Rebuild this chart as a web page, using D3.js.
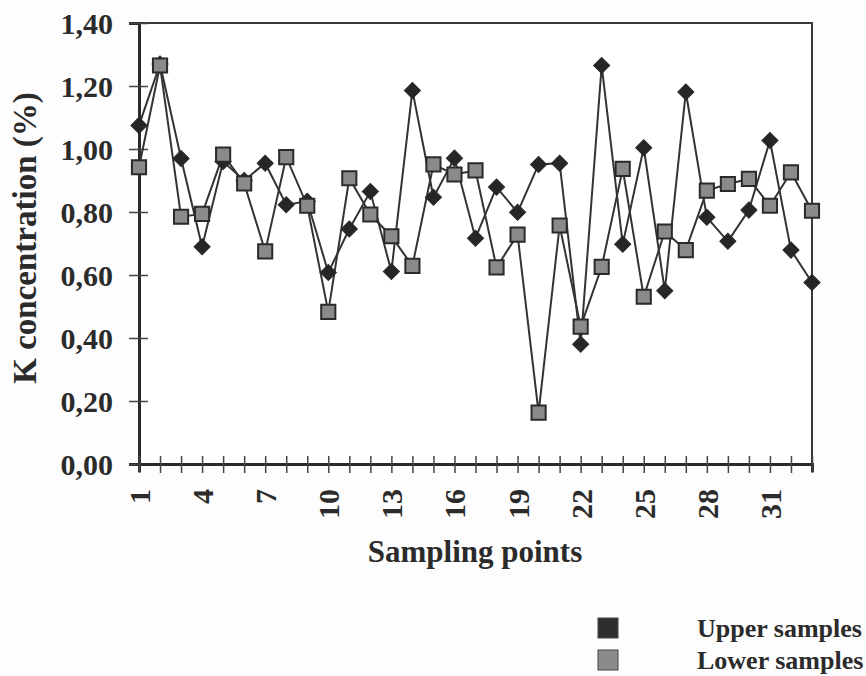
<!DOCTYPE html>
<html>
<head>
<meta charset="utf-8">
<script src="https://cdn.jsdelivr.net/npm/d3@7.9.0/dist/d3.min.js"></script>
<style>
  html, body { margin: 0; padding: 0; background: #fdfdfd; }
  svg text { font-family: "Liberation Serif", "Times New Roman", serif; font-weight: bold; fill: #2b2b2b; }
</style>
</head>
<body>
<svg id="chart" width="866" height="676"></svg>
<script>
// sampling points 1..33
const points = d3.range(1, 34);
const upper = [1.075, 1.27, 0.97, 0.69, 0.96, 0.90, 0.955, 0.823, 0.834, 0.608, 0.746,
  0.865, 0.611, 1.186, 0.847, 0.971, 0.717, 0.879, 0.799, 0.951, 0.955, 0.38,
  1.265, 0.698, 1.004, 0.55, 1.181, 0.783, 0.707, 0.806, 1.027, 0.679, 0.576];
const lower = [0.942, 1.265, 0.785, 0.794, 0.982, 0.891, 0.675, 0.974, 0.82, 0.483, 0.907,
  0.792, 0.723, 0.629, 0.951, 0.919, 0.932, 0.624, 0.728, 0.163, 0.757, 0.436,
  0.626, 0.937, 0.531, 0.738, 0.679, 0.868, 0.889, 0.905, 0.82, 0.926, 0.804];
const yTicks = [0, 0.2, 0.4, 0.6, 0.8, 1.0, 1.2, 1.4];
const xLabels = [1, 4, 7, 10, 13, 16, 19, 22, 25, 28, 31];
const series = [
  { name: 'Upper samples', values: upper, shape: 'diamond', fill: '#262626' },
  { name: 'Lower samples', values: lower, shape: 'square', fill: '#8a8a8a' },
];

const svg = d3.select('#chart');
const plot = { left: 139, right: 812, top: 23, bottom: 464 };

const x = d3.scaleLinear().domain([1, 33]).range([plot.left, plot.right]);
const y = d3.scaleLinear().domain([0, 1.4]).range([plot.bottom, plot.top]);
const fmt = d => d3.format('.2f')(d).replace('.', ',');

// frame
svg.append('rect')
  .attr('x', plot.left).attr('y', plot.top)
  .attr('width', plot.right - plot.left).attr('height', plot.bottom - plot.top)
  .attr('fill', '#fff').attr('stroke', '#3a3a3a').attr('stroke-width', 2);

// y axis
const yAxis = svg.append('g')
  .attr('transform', `translate(${plot.left},0)`)
  .call(d3.axisLeft(y).tickValues(yTicks).tickFormat(fmt).tickSize(10).tickPadding(16));
yAxis.select('.domain').attr('stroke', '#2a2a2a').attr('stroke-width', 3);
yAxis.selectAll('.tick line').attr('x2', -10).attr('x1', 9).attr('stroke', '#444').attr('stroke-width', 1.5);
yAxis.selectAll('.tick text').attr('font-size', 30).attr('dy', '0.36em').attr('fill', '#2b2b2b');

// x axis
const xAxis = svg.append('g')
  .attr('transform', `translate(0,${plot.bottom})`)
  .call(d3.axisBottom(x).tickValues(points).tickFormat(d => xLabels.includes(d) ? d : '').tickSize(8));
xAxis.select('.domain').attr('stroke', '#2a2a2a').attr('stroke-width', 3);
xAxis.selectAll('.tick line').attr('y1', -8).attr('y2', 9).attr('stroke', '#444').attr('stroke-width', 1.5);
xAxis.selectAll('.tick text')
  .attr('font-size', 30)
  .attr('text-anchor', 'end')
  .attr('transform', 'rotate(-90)')
  .attr('x', -25).attr('y', 0).attr('dy', '0.35em');

// axis titles
svg.append('text')
  .attr('x', 475).attr('y', 562)
  .attr('text-anchor', 'middle')
  .attr('font-size', 31)
  .text('Sampling points');

svg.append('text')
  .attr('transform', 'translate(36,238) rotate(-90)')
  .attr('text-anchor', 'middle')
  .attr('font-size', 33)
  .text('K concentration (%)');

// lines and markers
const line = d3.line().x((d, i) => x(points[i])).y(d => y(d));
const diamond = d3.symbol().type(d3.symbolSquare).size(130);
const square = d3.symbol().type(d3.symbolSquare).size(200);

series.forEach(s => {
  svg.append('path')
    .datum(s.values)
    .attr('d', line)
    .attr('fill', 'none')
    .attr('stroke', '#333')
    .attr('stroke-width', 2);
});

series.forEach(s => {
  svg.append('g').selectAll('path')
    .data(s.values)
    .join('path')
    .attr('d', s.shape === 'diamond' ? diamond : square)
    .attr('transform', (d, i) => `translate(${x(points[i])},${y(d)})` + (s.shape === 'diamond' ? ' rotate(45)' : ''))
    .attr('fill', s.fill)
    .attr('stroke', '#2a2a2a')
    .attr('stroke-width', s.shape === 'diamond' ? 1 : 2);
});

// legend
const legend = svg.append('g').attr('transform', 'translate(598,618)');
legend.selectAll('rect')
  .data(series)
  .join('rect')
  .attr('x', 0).attr('y', (d, i) => i * 32)
  .attr('width', 20).attr('height', 20)
  .attr('fill', d => d.shape === 'diamond' ? '#2e2e2e' : '#8a8a8a')
  .attr('stroke', '#444').attr('stroke-width', 1);
legend.selectAll('text')
  .data(series)
  .join('text')
  .attr('x', 99).attr('y', (d, i) => i * 32 + 19)
  .attr('font-size', 26)
  .text(d => d.name);
</script>
</body>
</html>
